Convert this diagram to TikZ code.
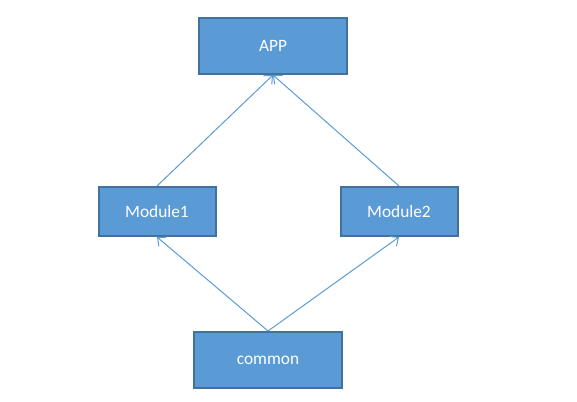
\documentclass[tikz,border=0pt]{standalone}
\usepackage{fontspec}
\setmainfont{Carlito}
\usetikzlibrary{arrows.meta,positioning}
\definecolor{boxblue}{RGB}{91,155,213}
\definecolor{boxedge}{RGB}{65,113,156}

\begin{document}
\begin{tikzpicture}[x=0.75pt, y=-0.75pt,
    box/.style={draw=boxedge, line width=1.5pt, fill=boxblue, text=white, font=\fontsize{13}{15}\selectfont, minimum width=111pt, minimum height=42pt, inner sep=0pt},
    smallbox/.style={box, minimum width=87.75pt, minimum height=36.75pt},
    arrow/.style={-{Straight Barb[length=5pt, width=9pt]}, boxblue, line width=0.75pt}
]
\useasboundingbox (0,0) rectangle (577,402);

% Modules
\node[box] (app) at (273, 46) {APP};
\node[smallbox] (mod1) at (157, 211.5) {Module1};
\node[smallbox] (mod2) at (399, 211.5) {Module2};
\node[box] (common) at (268, 360) {common};

% Dependencies
\draw[arrow] (mod1.north) -- (app.south);
\draw[arrow] (mod2.north) -- (app.south);
\draw[arrow] (common.north) -- (mod1.south);
\draw[arrow] (common.north) -- (mod2.south);

\end{tikzpicture}
\end{document}
